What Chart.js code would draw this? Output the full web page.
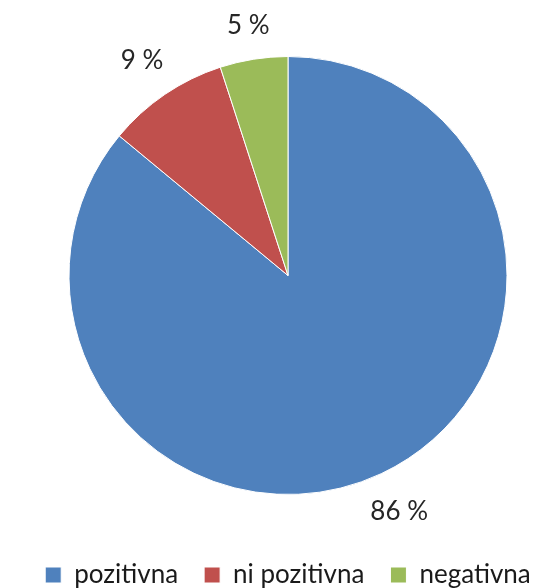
<!DOCTYPE html>
<html>
<head>
<meta charset="utf-8">
<script src="https://cdn.jsdelivr.net/npm/chart.js@4"></script>
<style>
  html, body { margin: 0; padding: 0; background: #fff; }
  #wrap { width: 560px; height: 588px; }
</style>
</head>
<body>
<div id="wrap"><canvas id="c" width="560" height="588"></canvas></div>
<script>
const categories = ["pozitivna", "ni pozitivna", "negativna"];
const shares = [86, 9, 5];
const sliceColors = ["#4F81BD", "#C0504D", "#9BBB59"];

// "% " labels outside each slice; pushed out by half the text box so the gap to the rim stays even
const outsideLabels = {
  id: "outsideLabels",
  afterDatasetsDraw(chart) {
    const ctx = chart.ctx;
    const meta = chart.getDatasetMeta(0);
    ctx.save();
    ctx.font = "26px Lato, 'Open Sans', sans-serif";
    ctx.fillStyle = "#262626";
    ctx.textAlign = "center";
    ctx.textBaseline = "middle";
    meta.data.forEach((arc, i) => {
      const txt = shares[i] + " %";
      const mid = (arc.startAngle + arc.endAngle) / 2;
      const cx = Math.cos(mid), cy = Math.sin(mid);
      const halfW = ctx.measureText(txt).width / 2;
      const r = arc.outerRadius + 18 + halfW * Math.abs(cx) + 13 * Math.abs(cy);
      ctx.fillText(txt, arc.x + cx * r, arc.y + cy * r);
    });
    ctx.restore();
  }
};

new Chart(document.getElementById("c").getContext("2d"), {
  type: "pie",
  data: {
    labels: categories,
    datasets: [
      {
        data: shares,
        backgroundColor: sliceColors,
        borderColor: "#ffffff",
        borderWidth: 1,
      },
    ],
  },
  options: {
    responsive: false,
    animation: false,
    layout: { padding: { top: 56, left: 16, right: 0, bottom: -10 } },
    plugins: {
      tooltip: { enabled: false },
      legend: {
        position: "bottom",
        title: { display: true, text: " ", font: { size: 10 }, padding: { top: 29, bottom: 0 } },
        labels: {
          boxWidth: 16,
          boxHeight: 16,
          padding: 26,
          color: "#1a1a1a",
          font: { family: "Lato, 'Open Sans', sans-serif", size: 26 },
        },
      },
    },
  },
  plugins: [outsideLabels],
});
</script>
</body>
</html>
